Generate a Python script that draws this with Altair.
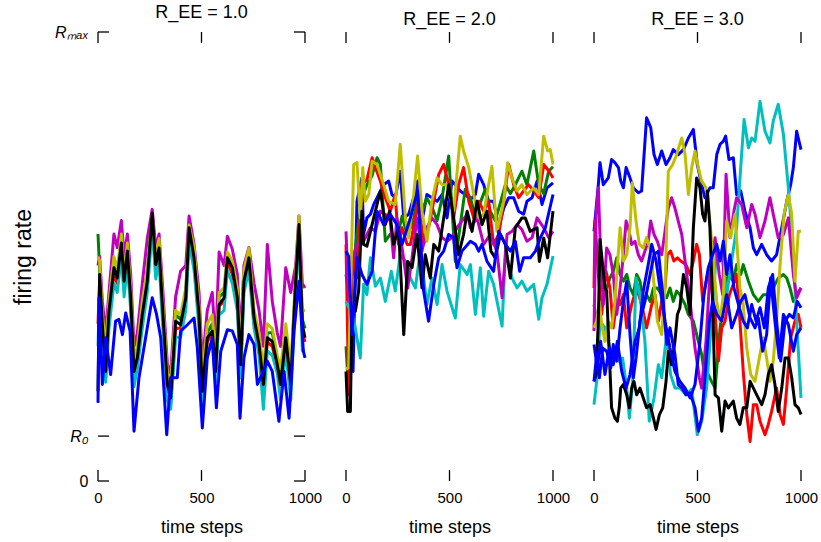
import altair as alt
import pandas as pd

FONT = "Liberation Sans"
X_TICKS = [0, 500, 1000]
Y_TICKS = [0, 10, 100]          # 0, R0, Rmax (rate in % of Rmax)
PANEL_TITLES = ["R_EE = 1.0", "R_EE = 2.0", "R_EE = 3.0"]
COLOR_HEX = {"b": "#0000FF", "g": "#008000", "r": "#FF0000", "c": "#00BFBF",
             "m": "#BF00BF", "y": "#BFBF00", "k": "#000000"}

# ---------------- panel 1 (R_EE = 1.0) ----------------
P1_T = [0, 8, 21, 37, 53, 77, 93, 113, 126, 142, 158, 174, 190, 214, 238, 262, 279, 295, 311, 335,
        351, 375, 399, 424, 440, 464, 488, 504, 528, 552, 568, 585, 609, 625, 649, 673, 689, 705, 729, 754,
        778, 799, 818, 842, 866, 882, 907, 931, 955, 971, 987, 1000]
P1_GREEN = [55, 47, 36, 27, 39, 48, 46, 54, 45, 52, 42, 26, 29, 39, 47, 59, 49, 52, 40, 23,
            20, 37, 36, 42, 56, 50, 38, 22, 33, 35, 26, 41, 42, 50, 48, 42, 27, 46, 50, 37,
            32, 23, 33, 33, 27, 23, 33, 23, 45, 58, 36, 34]
P1_RED = [35, 45, 34, 23, 37, 46, 44, 52, 43, 50, 40, 22, 26, 36, 44, 58, 47, 51, 38, 19,
          17, 34, 34, 40, 55, 49, 36, 18, 31, 33, 23, 39, 40, 49, 46, 40, 24, 44, 49, 35,
          29, 20, 31, 30, 25, 20, 31, 20, 44, 56, 33, 31]
P1_CYAN = [30, 43, 31, 22, 34, 44, 42, 50, 41, 48, 38, 21, 25, 34, 42, 56, 45, 49, 36, 18,
           16, 32, 32, 38, 53, 47, 34, 17, 29, 31, 22, 37, 38, 47, 44, 38, 23, 42, 47, 34,
           28, 16, 29, 28, 24, 18, 29, 18, 42, 55, 29, 29]
P1_MAGENTA = [48, 50, 40, 33, 42, 55, 52, 58, 50, 55, 46, 30, 33, 44, 54, 60.5, 52, 55, 44, 26,
              24, 41, 46.7, 48, 59, 52.7, 42, 26, 38, 42, 30, 51, 48, 54.5, 51.6, 46, 32, 48, 52, 44,
              38, 30, 52.7, 40, 33, 30, 47.5, 42, 48, 59, 44, 43]
P1_YELLOW = [50, 49, 37, 30, 40, 50, 47, 55, 46, 53, 43, 27, 30, 40, 47, 59, 50, 54, 41, 24,
             22, 38, 37, 43, 57, 52, 39, 23, 35, 37, 27, 42, 43, 51, 49, 43, 29, 47, 51.9, 38,
             33, 25, 35, 34, 28, 25, 35, 25, 46, 59, 38, 38]
P1_BLACK = [20, 46.0, 34.8, 24.4, 37.8, 47.5, 45.2, 53.0, 44.5, 51.2, 40.8, 24.4, 27.4, 37.1, 44.5, 59.7, 48.2, 51.9, 39.3, 21.5,
            18.5, 35.6, 34.8, 40.8, 56.4, 49.7, 37.1, 20.0, 31.9, 33.4, 24.4, 39.3, 40.8, 49.7, 47.5, 40.8, 25.9, 44.5, 49.7, 36.3,
            30.4, 21.5, 31.9, 31.1, 25.9, 21.5, 31.9, 21.5, 44.5, 57.1, 34.8, 31.9]
P1_BLUE = [(0, 17.4), (5, 40.8), (21, 21.5), (37, 31.9), (61, 23.7), (85, 35.6), (101, 36.0), (118, 32.6),
           (134, 37.4), (155, 33.4), (174, 11.1), (198, 23.0), (230, 31.9), (262, 40.8), (283, 37.1), (303, 31.9),
           (332, 10.3), (351, 23.0), (383, 23.0), (399, 33.4), (432, 34.8), (464, 36.3), (480, 29.6), (504, 11.8),
           (528, 27.4), (552, 31.9), (572, 16.3), (593, 28.9), (625, 33.7), (649, 33.4), (673, 30.4), (686, 14.0),
           (705, 27.4), (729, 32.6), (754, 30.4), (770, 21.5), (799, 24.4), (818, 26.7), (842, 24.4), (874, 13.3),
           (899, 24.4), (923, 14.0), (947, 33.4), (971, 44.5), (992, 28.9), (1000, 27.4)]

# ---------------- panel 2 (R_EE = 2.0) ----------------
P2_BLUE_A = [(0, 46.0), (21, 40.0), (34, 24.4), (53, 62.3), (77, 67.5), (85, 54.9), (101, 58.6), (118, 59.4),
             (134, 61.6), (158, 63.8), (182, 66.0), (206, 66.8), (222, 63.8), (238, 63.1), (262, 69.0), (279, 58.6),
             (303, 59.4), (327, 63.1), (346, 66.8), (367, 57.9), (391, 63.8), (415, 63.1), (440, 62.3), (464, 63.8),
             (488, 58.6), (512, 66.8), (528, 66.0), (552, 64.6), (576, 63.8), (601, 62.7), (625, 63.8), (641, 68.3),
             (665, 66.0), (689, 62.3), (713, 62.3), (738, 56.4), (762, 60.8), (786, 63.1), (810, 63.1), (834, 60.1),
             (858, 59.4), (874, 62.3), (899, 63.1), (923, 66.8), (947, 61.6), (971, 65.3), (1000, 66.4)]
P2_GREEN = [(0, 30), (13, 20.0), (29, 45), (53, 55), (77, 63), (101, 66), (126, 68), (150, 72.0), (166, 70.5),
            (190, 53.4), (214, 55), (246, 54), (271, 59), (295, 55), (319, 57), (343, 62), (367, 60), (391, 63),
            (415, 61), (440, 58), (464, 63), (496, 72.4), (528, 48.9), (552, 57), (576, 65), (601, 63), (625, 59),
            (649, 62), (673, 65), (697, 60), (721, 58), (746, 62), (770, 66), (794, 64), (818, 66), (850, 69.0),
            (874, 66), (907, 73.5), (931, 66), (955, 64), (979, 69), (1000, 70)]
P2_RED = [(0, 52.7), (13, 19.2), (29, 51.2), (53, 45.2), (77, 66.0), (101, 67.1), (126, 72.0), (142, 69.8),
          (166, 66.8), (190, 63.1), (214, 60.1), (238, 63.8), (254, 52.7), (271, 56.4), (295, 52.7), (311, 52.7),
          (335, 58.6), (351, 62.3), (375, 52.7), (399, 56.4), (424, 62.3), (448, 68.3), (472, 70.5), (496, 66.0),
          (520, 58.6), (544, 66.0), (568, 69.8), (593, 62.3), (617, 58.6), (641, 62.3), (665, 60.1), (689, 62.3),
          (713, 52.7), (738, 54.9), (762, 62.3), (786, 70.5), (810, 66.0), (834, 63.1), (858, 64.6), (882, 66.0),
          (907, 64.6), (931, 63.1), (955, 70.5), (979, 69.1), (1000, 67.5)]
P2_CYAN = [(0, 40.0), (37, 36.3), (69, 27.4), (85, 43.8), (101, 41.5), (118, 49.7), (142, 43.4), (166, 45.2),
           (190, 40.0), (219, 46.7), (238, 42.3), (262, 50.4), (287, 49.0), (311, 45.2), (335, 43.0), (359, 51.2),
           (391, 39.3), (415, 45.2), (440, 39.3), (464, 48.2), (488, 42.3), (528, 36.3), (552, 48.2), (585, 46.0),
           (601, 48.2), (625, 37.1), (649, 47.5), (665, 36.7), (689, 46.7), (713, 43.8), (754, 34.5), (770, 51.2),
           (802, 45.2), (826, 43.0), (850, 44.5), (874, 42.3), (907, 43.8), (931, 36.0), (947, 40.8), (971, 43.8),
           (1000, 50.1)]
P2_MAGENTA = [(0, 55.6), (13, 40.0), (29, 48.9), (53, 52.7), (85, 53.4), (118, 56.4), (142, 55.6), (166, 60.1),
              (190, 59.4), (214, 57.9), (230, 49.7), (246, 58.6), (271, 51.9), (298, 43.0), (319, 49.7), (343, 58.6),
              (367, 51.2), (391, 56.4), (415, 58.6), (440, 57.1), (464, 54.2), (488, 53.4), (512, 54.2), (536, 56.4),
              (560, 57.9), (585, 59.4), (601, 56.4), (633, 58.6), (665, 52.7), (697, 54.9), (729, 51.2), (754, 40.8),
              (778, 54.9), (802, 55.6), (826, 57.1), (850, 56.0), (874, 53.4), (899, 54.2), (923, 58.6), (955, 56.4),
              (979, 54.2), (1000, 55.6)]
P2_YELLOW = [(0, 25), (13, 25.2), (37, 70.5), (53, 70.9), (69, 58.6), (81, 69.8), (93, 62.3), (110, 63.8),
             (126, 71.2), (150, 70.5), (182, 66.0), (206, 62.3), (238, 61.6), (262, 75.0), (287, 58.6), (303, 54.2),
             (327, 63.8), (346, 72.4), (367, 60.1), (391, 53.4), (415, 62.3), (440, 67.5), (464, 66.0), (488, 66.0),
             (520, 60.1), (552, 76.8), (568, 73.5), (593, 69.8), (617, 63.8), (641, 58.6), (665, 59.4), (689, 66.0),
             (705, 70.1), (729, 55.6), (762, 62.3), (781, 70.9), (802, 67.5), (826, 64.6), (850, 66.0), (874, 63.8),
             (907, 65.3), (931, 63.8), (955, 76.8), (974, 73.5), (987, 73.8), (1000, 70.5)]
P2_BLACK = [(0, 24.4), (8, 15.5), (21, 15.5), (29, 37.8), (45, 37.8), (61, 42.3), (77, 60.1), (85, 52.7),
            (101, 52.3), (126, 57.1), (142, 60.1), (166, 64.6), (190, 57.1), (211, 60.1), (230, 52.7), (254, 56.4),
            (279, 32.6), (298, 48.9), (319, 47.5), (343, 54.9), (367, 43.0), (383, 50.4), (407, 45.2), (424, 52.7),
            (448, 51.2), (472, 58.6), (496, 66.0), (520, 58.6), (544, 50.4), (568, 54.9), (585, 60.1), (609, 55.6),
            (633, 62.3), (657, 57.1), (681, 60.1), (700, 51.2), (721, 49.7), (746, 54.9), (770, 52.7), (794, 45.2),
            (818, 56.4), (850, 58.6), (866, 58.6), (890, 55.6), (923, 56.4), (934, 48.9), (955, 54.1), (974, 49.7),
            (1000, 60.1)]
P2_BLUE_B = [(0, 51.2), (13, 50.0), (29, 32.6), (53, 49.7), (77, 46.0), (101, 43.8), (126, 46.7), (150, 60.1),
             (166, 58.6), (182, 57.1), (214, 59.4), (246, 57.1), (271, 52.7), (311, 58.6), (346, 64.6), (375, 42.3),
             (399, 35.6), (424, 43.8), (448, 49.7), (472, 51.2), (496, 54.9), (520, 54.2), (536, 47.5), (560, 51.2),
             (601, 53.4), (625, 52.7), (641, 51.2), (657, 52.7), (681, 48.9), (713, 46.7), (738, 55.6), (770, 52.7),
             (794, 51.2), (818, 53.4), (839, 46.7), (858, 49.7), (890, 49.7), (915, 51.2), (939, 54.2), (963, 56.4),
             (1000, 63.8)]

# ---------------- panel 3 (R_EE = 3.0) ----------------
P3_BLUE_A = [(0, 55.6), (21, 66.0), (29, 70.9), (45, 66.0), (69, 67.5), (85, 71.6), (101, 70.9), (118, 69.8),
             (129, 66.8), (142, 65.3), (155, 69.8), (171, 67.9), (190, 65.3), (214, 64.2), (230, 64.6), (254, 80.9),
             (274, 78.7), (290, 72.7), (306, 70.5), (327, 73.5), (348, 70.5), (367, 72.0), (383, 73.8), (407, 72.7),
             (432, 73.8), (456, 76.4), (480, 78.3), (499, 70.5), (520, 66.0), (536, 63.1), (560, 65.3), (576, 65.3),
             (593, 72.7), (609, 75.0), (625, 75.7), (636, 76.8), (652, 71.6), (673, 72.0), (689, 63.8), (709, 64.6),
             (729, 60.1), (754, 56.4), (770, 51.9), (786, 50.4), (810, 52.7), (834, 50.4), (858, 49.0), (882, 50.4),
             (907, 56.4), (931, 62.3), (950, 66.0), (963, 69.8), (979, 77.9), (1000, 73.8)]
P3_GREEN = [(0, 39.3), (13, 35.6), (29, 39.3), (45, 41.5), (61, 43.0), (77, 45.2), (93, 46.7), (110, 49.7),
            (126, 46.0), (142, 44.5), (158, 46.0), (174, 43.0), (190, 41.5), (206, 46.0), (222, 44.5), (238, 40.0),
            (254, 41.5), (271, 40.0), (287, 43.0), (306, 43.0), (327, 41.5), (351, 40.8), (367, 43.0), (383, 40.0),
            (399, 42.3), (415, 41.5), (440, 39.3), (456, 37.1), (480, 35.6), (504, 31.1), (520, 28.2), (536, 23.0),
            (552, 23.7), (568, 22.2), (585, 20.7), (609, 34.1), (633, 43.0), (649, 46.0), (673, 44.5), (689, 48.2),
            (709, 46.0), (721, 48.2), (746, 44.5), (770, 41.5), (794, 40.0), (818, 41.5), (842, 41.5), (866, 43.0),
            (890, 45.2), (915, 46.0), (931, 45.2), (947, 43.0), (963, 40.0), (979, 41.5), (1000, 43.0)]
P3_RED = [(0, 43.0), (5, 57.9), (21, 46.0), (37, 37.1), (58, 46.7), (77, 43.0), (93, 34.1), (110, 40.0),
          (126, 39.3), (142, 41.5), (158, 34.1), (182, 39.3), (206, 43.0), (230, 39.3), (254, 34.1), (279, 39.3),
          (295, 41.5), (311, 35.6), (327, 40.0), (343, 43.0), (354, 50.4), (370, 51.2), (386, 49.0), (403, 49.7),
          (419, 49.0), (444, 48.2), (464, 46.0), (480, 49.0), (496, 52.7), (509, 50.4), (525, 40.0), (536, 43.0),
          (552, 46.7), (568, 43.0), (585, 37.1), (601, 26.7), (617, 34.1), (633, 35.6), (654, 41.5), (673, 43.8),
          (689, 46.0), (705, 35.6), (721, 24.4), (738, 14.8), (754, 8.8), (770, 17.0), (786, 17.0), (802, 13.3),
          (826, 10.3), (842, 12.6), (858, 15.5), (882, 20.7), (899, 14.8), (915, 12.6), (931, 20.7), (950, 31.9),
          (971, 35.6), (987, 37.1), (1000, 34.1)]
P3_CYAN = [(0, 17.0), (13, 22.2), (29, 35.6), (53, 34.1), (77, 29.6), (93, 28.2), (118, 26.7), (138, 27.4),
           (158, 20.7), (171, 14.0), (187, 22.2), (203, 45.2), (222, 41.5), (246, 31.1), (267, 13.3), (290, 18.5),
           (311, 25.9), (327, 23.0), (351, 32.6), (370, 23.7), (391, 20.7), (415, 20.7), (444, 19.2), (472, 20.4),
           (499, 10.3), (520, 13.3), (544, 20.7), (568, 35.6), (593, 51.9), (617, 50.4), (641, 41.5), (665, 49.0),
           (689, 56.4), (713, 72.7), (725, 80.5), (746, 74.2), (762, 76.4), (778, 75.7), (802, 84.6), (826, 77.9),
           (850, 75.3), (866, 80.2), (890, 83.9), (915, 77.2), (939, 65.3), (963, 50.4), (979, 35.6), (1000, 18.5)]
P3_MAGENTA = [(0, 33.4), (10, 59.4), (21, 65.3), (32, 50.4), (45, 39.3), (61, 51.9), (77, 50.4), (93, 46.0),
              (110, 37.1), (126, 43.0), (142, 50.4), (155, 57.9), (166, 56.4), (182, 52.7), (198, 53.4), (214, 50.4),
              (230, 49.0), (246, 51.2), (262, 53.4), (274, 57.9), (290, 54.9), (306, 53.4), (327, 50.4), (343, 55.6),
              (359, 60.8), (375, 63.1), (391, 60.8), (407, 57.9), (424, 54.9), (440, 49.0), (464, 40.0), (488, 29.6),
              (509, 23.0), (520, 20.7), (541, 31.1), (560, 46.0), (585, 54.2), (605, 46.0), (622, 41.5), (638, 68.3),
              (657, 54.2), (676, 60.1), (689, 63.1), (713, 61.6), (738, 56.4), (762, 61.6), (778, 59.4), (802, 54.2),
              (826, 57.9), (850, 63.1), (866, 59.4), (890, 54.2), (915, 54.9), (939, 58.6), (963, 46.0), (979, 40.8),
              (1000, 43.0)]
P3_YELLOW = [(0, 34.1), (13, 35.6), (26, 40.0), (37, 34.8), (53, 31.1), (69, 35.6), (85, 34.1), (101, 40.0),
             (126, 56.4), (142, 49.0), (158, 50.4), (174, 56.4), (185, 66.4), (203, 57.9), (219, 52.7), (238, 51.9),
             (254, 54.2), (274, 51.2), (290, 43.8), (306, 35.6), (327, 32.6), (343, 43.0), (359, 69.0), (380, 70.5),
             (399, 72.7), (424, 76.4), (440, 72.7), (456, 63.8), (472, 69.8), (488, 73.5), (504, 69.8), (520, 66.8),
             (541, 65.3), (560, 57.9), (576, 49.0), (593, 40.0), (609, 35.6), (625, 41.5), (641, 57.9), (660, 54.2),
             (681, 59.4), (705, 43.0), (721, 39.3), (738, 29.6), (757, 23.7), (778, 22.2), (802, 28.2), (818, 31.9),
             (834, 27.4), (850, 22.2), (866, 26.7), (882, 35.6), (899, 48.2), (918, 59.4), (939, 63.8), (955, 59.4),
             (971, 44.5), (987, 55.6), (1000, 55.6)]
P3_BLACK = [(0, 22.2), (10, 23.7), (21, 35.6), (29, 53.8), (53, 43.0), (61, 42.3), (74, 28.2), (85, 16.3),
            (101, 14.0), (113, 13.3), (122, 16.3), (129, 20.7), (142, 21.5), (158, 19.2), (171, 16.3), (182, 20.7),
            (193, 22.2), (206, 19.2), (222, 20.7), (238, 18.5), (254, 16.3), (271, 17.0), (287, 14.0), (300, 11.5),
            (316, 14.8), (332, 16.3), (348, 22.2), (359, 28.9), (375, 25.9), (391, 31.1), (403, 37.1), (415, 38.6),
            (432, 46.0), (448, 43.0), (464, 37.1), (480, 56.4), (496, 67.5), (512, 65.3), (525, 59.4), (536, 57.9),
            (548, 64.6), (560, 56.4), (573, 40.0), (585, 19.2), (601, 18.5), (617, 11.1), (633, 17.8), (649, 16.3),
            (673, 17.8), (689, 14.0), (705, 12.6), (721, 16.3), (738, 16.3), (754, 22.2), (770, 20.7), (786, 19.2),
            (810, 17.0), (826, 19.2), (842, 23.7), (858, 25.9), (874, 21.5), (890, 15.5), (907, 20.7), (923, 27.4),
            (939, 27.4), (955, 23.0), (971, 17.0), (987, 16.3), (1000, 14.8)]
P3_BLUE_B = [(0, 22.2), (13, 28.2), (26, 23.0), (42, 29.6), (61, 28.9), (81, 25.2), (93, 30.4), (110, 26.7),
             (126, 34.1), (142, 40.0), (158, 44.5), (174, 32.6), (190, 23.0), (203, 27.4), (222, 35.6), (246, 40.0),
             (271, 46.0), (290, 50.4), (311, 51.2), (332, 41.5), (351, 30.4), (367, 34.1), (391, 28.2), (407, 21.5),
             (424, 20.7), (444, 19.2), (464, 19.6), (488, 16.3), (504, 11.1), (520, 14.0), (536, 23.0), (557, 35.6),
             (573, 40.0), (593, 37.1), (617, 35.6), (641, 41.5), (665, 34.1), (689, 37.1), (709, 40.0), (729, 41.5),
             (754, 36.3), (778, 34.1), (794, 36.3), (815, 28.9), (834, 32.6), (853, 45.2), (874, 35.6), (895, 27.4),
             (915, 37.1), (939, 34.8), (963, 28.9), (979, 32.6), (1000, 34.1)]
P3_BLUE_C = [(0, 30.4), (16, 25.2), (32, 31.1), (53, 23.7), (74, 29.6), (93, 25.9), (113, 31.1), (134, 24.4),
             (155, 20.7), (174, 23.7), (198, 31.1), (219, 34.1), (238, 42.3), (262, 48.2), (279, 52.7), (300, 49.0),
             (319, 43.0), (343, 35.6), (367, 29.6), (391, 24.4), (415, 22.2), (440, 20.7), (464, 18.5), (488, 21.5),
             (512, 31.1), (531, 41.5), (552, 47.5), (573, 50.4), (593, 52.7), (609, 49.0), (625, 53.4), (641, 46.0),
             (657, 50.4), (676, 43.0), (702, 38.6), (721, 35.6), (741, 34.1), (762, 39.3), (783, 35.6), (802, 38.6),
             (823, 34.1), (842, 43.0), (863, 46.0), (882, 35.6), (902, 26.7), (923, 35.6), (944, 37.1), (963, 36.3),
             (982, 40.0), (1000, 38.6)]

PANELS = [
    [("g", list(zip(P1_T, P1_GREEN))), ("r", list(zip(P1_T, P1_RED))), ("c", list(zip(P1_T, P1_CYAN))),
     ("m", list(zip(P1_T, P1_MAGENTA))), ("y", list(zip(P1_T, P1_YELLOW))), ("k", list(zip(P1_T, P1_BLACK))),
     ("b", P1_BLUE)],
    [("b", P2_BLUE_A), ("g", P2_GREEN), ("r", P2_RED), ("c", P2_CYAN), ("m", P2_MAGENTA),
     ("y", P2_YELLOW), ("k", P2_BLACK), ("b", P2_BLUE_B)],
    [("b", P3_BLUE_A), ("g", P3_GREEN), ("r", P3_RED), ("c", P3_CYAN), ("m", P3_MAGENTA),
     ("y", P3_YELLOW), ("k", P3_BLACK), ("b", P3_BLUE_B), ("b", P3_BLUE_C)],
]

W, H = 207, 449
TICK_LEN = 11

x_axis = alt.Axis(values=X_TICKS, format="d", ticks=False, domain=False, grid=False, labelFlush=False,
                  labelFontSize=15, labelPadding=9, title="time steps", titleFontSize=18,
                  titleFontWeight="normal", titlePadding=13, labelFont=FONT, titleFont=FONT,
                  labelColor="black", titleColor="black")
y_axis = alt.Axis(values=Y_TICKS, ticks=False, domain=False, grid=False, labelFlush=False,
                  labelExpr="datum.value == 100 ? 'Rₘₐₓ' : (datum.value == 10 ? 'R₀' : '0')",
                  labelFontStyle={"condition": {"test": "datum.value == 0", "value": "normal"}, "value": "italic"},
                  labelFontSize=16, labelPadding=10, title="firing rate", titleFontSize=23,
                  titleFontWeight="normal", titlePadding=19, labelFont=FONT, titleFont=FONT,
                  labelColor="black", titleColor="black")


def make_panel(k, lines):
    rows = []
    for j, (c, pts) in enumerate(lines):
        for t, v in pts:
            rows.append({"line": f"p{k}_{j:02d}", "hex": COLOR_HEX[c], "t": t, "v": v})
    df = pd.DataFrame(rows)
    x_enc = alt.X("t:Q", scale=alt.Scale(domain=[0, 1000], nice=False, zero=False), axis=x_axis)
    y_enc = alt.Y("v:Q", scale=alt.Scale(domain=[0, 100], nice=False, zero=False),
                  axis=y_axis if k == 0 else None)
    lines_layer = alt.Chart(df).mark_line(strokeWidth=3, strokeJoin="round").encode(
        x=x_enc, y=y_enc, color=alt.Color("hex:N", scale=None), detail="line:N")
    xt = pd.DataFrame({"t": X_TICKS})
    top = alt.Chart(xt).mark_rule(color="black", strokeWidth=1.3).encode(
        x=x_enc, y=alt.value(0), y2=alt.value(TICK_LEN))
    bot = alt.Chart(xt).mark_rule(color="black", strokeWidth=1.3).encode(
        x=x_enc, y=alt.value(H - TICK_LEN), y2=alt.value(H))
    layers = [lines_layer, top, bot]
    if k == 0:
        yt = pd.DataFrame({"v": Y_TICKS})
        left = alt.Chart(yt).mark_rule(color="black", strokeWidth=1.3).encode(
            y=y_enc, x=alt.value(0), x2=alt.value(TICK_LEN))
        right = alt.Chart(yt).mark_rule(color="black", strokeWidth=1.3).encode(
            y=y_enc, x=alt.value(W - TICK_LEN), x2=alt.value(W))
        layers += [left, right]
    return alt.layer(*layers).properties(
        width=W, height=H,
        title=alt.TitleParams(PANEL_TITLES[k], fontSize=18, fontWeight="normal", font=FONT,
                              anchor="middle", offset=2, color="black"))


panels = [make_panel(k, lines) for k, lines in enumerate(PANELS)]

chart = alt.hconcat(*panels, spacing=41, bounds="flush").properties(
    padding={"left": 12, "top": 4, "right": 2, "bottom": 2},
    background="white"
).configure_view(strokeWidth=0, stroke=None)

chart.save("out.html", embed_options={"renderer": "svg", "actions": False})
